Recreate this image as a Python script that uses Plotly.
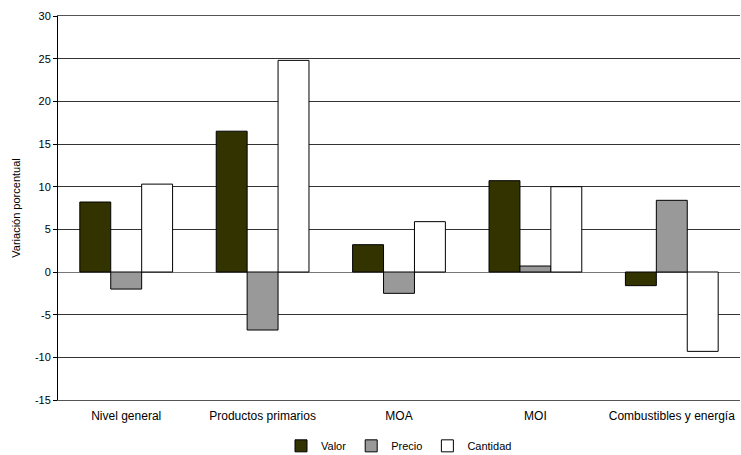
import plotly.graph_objects as go

categories = ["Nivel general", "Productos primarios", "MOA", "MOI", "Combustibles y energía"]
valor = [8.2, 16.5, 3.2, 10.7, -1.6]
precio = [-2.0, -6.8, -2.5, 0.7, 8.4]
cantidad = [10.3, 24.8, 5.9, 10.0, -9.3]
y_ticks = [-15, -10, -5, 0, 5, 10, 15, 20, 25, 30]
y_tick_text = ["-15", "-10", "-5", "0", "5", "10", "15", "20", "25", "30"]

fig = go.Figure()
for name, vals, color in [("Valor", valor, "#333300"), ("Precio", precio, "#999999"), ("Cantidad", cantidad, "#FFFFFF")]:
    fig.add_trace(go.Bar(name=name, x=categories, y=vals, marker=dict(color=color, line=dict(color="#000000", width=1))))

fig.update_layout(
    width=741, height=455,
    margin=dict(l=58, r=1, t=16, b=55),
    barmode="group", bargap=0.32, bargroupgap=0,
    plot_bgcolor="white", paper_bgcolor="white",
    font=dict(family="Liberation Sans, Arial", size=11, color="#000000"),
    showlegend=True,
    legend=dict(orientation="h", x=0.5, xanchor="center", xref="paper",
                yref="container", y=0.052, yanchor="top", valign="middle",
                font=dict(size=11), traceorder="normal", itemwidth=30),
    yaxis=dict(range=[-15, 30], tickvals=y_ticks, ticktext=y_tick_text, showgrid=True,
               gridcolor="#333333", gridwidth=1, automargin=False,
               zeroline=True, zerolinecolor="#777777", zerolinewidth=1,
               showline=True, linecolor="#000000", linewidth=1, ticks="outside", ticklen=4,
               tickcolor="#000000",
               title=dict(text="Variación porcentual", font=dict(size=11), standoff=12)),
    xaxis=dict(showline=True, mirror=True, linecolor="#555555", linewidth=1, ticks="",
               tickfont=dict(size=12), ticklabelstandoff=5, automargin=False),
)
fig.write_html("out.html", post_script="document.body.style.margin='0';",
               config={"displayModeBar": False})
